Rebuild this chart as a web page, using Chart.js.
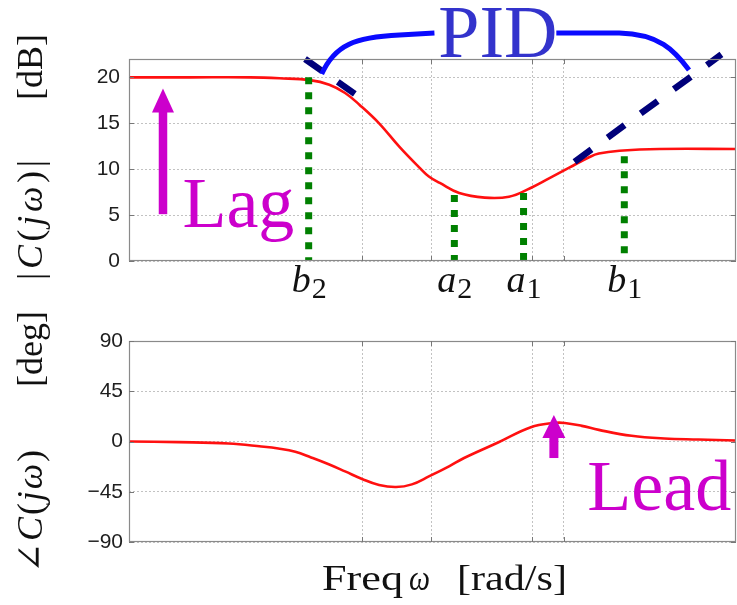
<!DOCTYPE html>
<html><head><meta charset="utf-8">
<script src="https://cdn.jsdelivr.net/npm/chart.js@4.4.1/dist/chart.umd.min.js"></script>
<style>
html,body{margin:0;padding:0;background:#fff;}
#wrap{position:relative;width:737px;height:605px;overflow:hidden;background:#fff;}
.box{position:absolute;left:0;width:737px;}
#boxMag{top:0;height:310px;}
#boxPh{top:310px;height:295px;}
</style></head><body>
<div id="wrap">
  <div class="box" id="boxMag"><canvas id="mag"></canvas></div>
  <div class="box" id="boxPh"><canvas id="ph"></canvas></div>
</div>
<script>
// ---- data (x = log10 of frequency) ----
const magFreq = [-3.00,-2.50,-2.00,-1.76,-1.51,-1.35,-1.22,-1.10,-0.94,-0.77,-0.61,-0.53,-0.44,-0.28,-0.07,0.13,0.30,0.46,0.63,0.79,0.87,1.04,1.37,2.00];
const magDb   = [20.0,20.0,20.0,19.9,19.7,19.2,18.3,17.0,15.0,12.4,10.2,9.2,8.5,7.4,6.9,7.0,7.9,9.0,10.2,11.3,11.7,12.0,12.2,12.2];
const phaseFreq = [-3.00,-2.59,-2.18,-1.91,-1.77,-1.63,-1.50,-1.36,-1.22,-1.08,-0.94,-0.80,-0.67,-0.53,-0.36,-0.24,0.04,0.31,0.50,0.59,0.73,0.87,1.14,1.41,1.69,2.00];
const phaseDeg  = [0,-0.6,-1.8,-4.5,-6.3,-9.2,-14.3,-20.2,-26.8,-33.6,-39.0,-40.8,-38.4,-31.3,-22.0,-14.8,-0.9,12.8,16.6,16.6,14.0,10.4,5.1,2.7,1.8,0.9];
const gridFreq = [-1.08,-0.51,0.32,0.58];
const magTicks = [0,5,10,15,20];
const phaseTicks = [-90,-45,0,45,90];
const cornerNames = ['b','a','a','b'];
const cornerSubs  = ['2','2','1','1'];
const cornerFreq  = [-1.52,-0.32,0.25,1.08];
const cornerTopDb = [20.0,7.2,7.4,11.4];
const lowAsymFreq = [-1.55,-1.14];
const lowAsymDb   = [22.0,18.2];
const highAsymFreq = [0.67,1.88];
const highAsymDb   = [10.8,22.5];

const SERIF = '"Liberation Serif","DejaVu Serif",serif';
const SANS = '"Liberation Sans",Arial,sans-serif';
const GRID = '#c2c2c2';
const MAGENTA = '#cc00cc';

function pts(xs, ys){ return xs.map((x,i)=>({x:x,y:ys[i]})); }

function gapRuns(ctx, list, left, baseline, width){
  const ws = list.map(r=>{ctx.font=r[1]; return ctx.measureText(r[0]).width;});
  const total = ws.reduce((a,b)=>a+b,0);
  const gap = list.length>1 ? (width-total)/(list.length-1) : 0;
  let x = left;
  list.forEach((r,i)=>{ctx.font=r[1]; ctx.fillText(r[0],x,baseline); x+=ws[i]+gap;});
}
function fitText(ctx, text, font, left, baseline, width){
  ctx.font = font;
  const w = ctx.measureText(text).width;
  ctx.save(); ctx.translate(left, baseline); ctx.scale(width/w,1); ctx.fillText(text,0,0); ctx.restore();
}
function upArrow(ctx, x, yTail, yTip, shaft, headW, headL, color){
  ctx.fillStyle = color;
  ctx.fillRect(x-shaft/2, yTip+headL-1, shaft, yTail-(yTip+headL-1));
  ctx.beginPath();
  ctx.moveTo(x, yTip); ctx.lineTo(x+headW/2, yTip+headL); ctx.lineTo(x-headW/2, yTip+headL); ctx.closePath();
  ctx.fill();
}

const framePlugin = {
  id:'frame',
  afterDatasetsDraw(chart){
    const {ctx, chartArea:a, scales} = chart;
    ctx.save();
    ctx.strokeStyle = '#8a8a8a'; ctx.lineWidth = 1.2;
    ctx.strokeRect(a.left+0.5, a.top+0.5, a.right-a.left-1, a.bottom-a.top-1);
    ctx.strokeStyle = '#777'; ctx.lineWidth = 1;
    ctx.beginPath();
    gridFreq.forEach(v=>{
      const x = Math.round(scales.x.getPixelForValue(v))+0.5;
      ctx.moveTo(x,a.top); ctx.lineTo(x,a.top+5);
      ctx.moveTo(x,a.bottom); ctx.lineTo(x,a.bottom-5);
    });
    scales.y.ticks.forEach(t=>{
      const y = Math.round(scales.y.getPixelForValue(t.value))+0.5;
      ctx.moveTo(a.left,y); ctx.lineTo(a.left+5,y);
      ctx.moveTo(a.right,y); ctx.lineTo(a.right-5,y);
    });
    ctx.stroke();
    ctx.restore();
  }
};

function options(o){
  return {
    responsive:true, maintainAspectRatio:false, animation:false,
    layout:{padding:{top:o.padTop,right:1,left:0,bottom:0}},
    plugins:{legend:{display:false},tooltip:{enabled:false}},
    elements:{point:{radius:0,hoverRadius:0},line:{borderCapStyle:'butt'}},
    scales:{
      x:{type:'linear',min:-3,max:2,
        afterBuildTicks:s=>{s.ticks=gridFreq.map(v=>({value:v}));},
        afterFit:s=>{s.height=o.xAxisHeight;},
        ticks:{display:false},
        grid:{color:GRID,lineWidth:1,drawTicks:false},
        border:{display:false,dash:[2,2]}},
      y:{type:'linear',min:o.yMin,max:o.yMax,
        afterBuildTicks:s=>{s.ticks=o.yTicks.map(v=>({value:v}));},
        afterFit:s=>{s.width=129;},
        ticks:{padding:o.labelPad,color:'#1e1e1e',autoSkip:false,
          font:{family:SANS,size:21},
          callback:v=> v<0 ? '\u2212'+Math.abs(v) : String(v)},
        grid:{color:GRID,lineWidth:1,drawTicks:false},
        border:{display:false,dash:[2,2]}}
    }
  };
}

// ---- top: magnitude ----
const magAnno = {
  id:'magAnno',
  afterDraw(chart){
    const {ctx, chartArea:a, scales:{x:X,y:Y}} = chart;
    const P = (fx,fy)=>[X.getPixelForValue(fx), Y.getPixelForValue(fy)];
    ctx.save();
    // brace
    ctx.strokeStyle = '#0a0aff'; ctx.lineWidth = 5; ctx.lineCap='butt';
    ctx.beginPath();
    ctx.moveTo(...P(-1.413,20.36));
    ctx.bezierCurveTo(...P(-1.306,23.52), ...P(-1.141,24.39), ...P(-0.771,24.61));
    ctx.lineTo(...P(-0.484,24.82));
    ctx.moveTo(...P(0.520,24.82));
    ctx.lineTo(...P(1.038,24.82));
    ctx.bezierCurveTo(...P(1.367,24.71), ...P(1.490,22.97), ...P(1.613,20.80));
    ctx.stroke();
    // PID
    ctx.fillStyle = '#3333cc';
    ctx.font = '74px '+SERIF; ctx.textAlign='center'; ctx.textBaseline='alphabetic';
    ctx.fillText('PID', X.getPixelForValue(0.039), Y.getPixelForValue(22.2));
    // Lag arrow + text
    const ax = X.getPixelForValue(-2.72);
    upArrow(ctx, ax, Y.getPixelForValue(5.1), Y.getPixelForValue(18.8), 8.5, 22, 24, MAGENTA);
    ctx.fillStyle = MAGENTA; ctx.textAlign='left';
    ctx.font = '72px '+SERIF;
    ctx.fillText('Lag', X.getPixelForValue(-2.56), Y.getPixelForValue(3.7));
    // corner labels
    ctx.fillStyle = '#111';
    cornerFreq.forEach((f,i)=>{
      const cx = X.getPixelForValue(f);
      ctx.font = 'italic 38px '+SERIF;
      const w1 = ctx.measureText(cornerNames[i]).width;
      ctx.font = '30px '+SERIF;
      const w2 = ctx.measureText(cornerSubs[i]).width;
      const left = cx - (w1+w2)/2;
      ctx.font = 'italic 38px '+SERIF; ctx.textAlign='left';
      ctx.fillText(cornerNames[i], left, a.bottom+31);
      ctx.font = '30px '+SERIF;
      ctx.fillText(cornerSubs[i], left+w1+1, a.bottom+37);
    });
    // y title (rotated)
    ctx.translate(33, 0); ctx.rotate(-Math.PI/2);
    ctx.textBaseline='middle'; ctx.fillStyle='#111';
    gapRuns(ctx, [['|','36px '+SERIF],['C','italic 36px '+SERIF],['(','36px '+SERIF],['j','italic 36px '+SERIF],['\u03c9','italic 36px '+SERIF],[')','36px '+SERIF],['|','36px '+SERIF]], -280, 0, 120);
    gapRuns(ctx, [['[dB]','36px '+SERIF]], -100, 0, 67);
    ctx.restore();
  }
};

new Chart(document.getElementById('mag'), {
  type:'line',
  data:{datasets:[
    {data:pts(lowAsymFreq,lowAsymDb), borderColor:'#00007a', borderWidth:6.5, borderDash:[21,19], clip:false, order:1},
    {data:pts(highAsymFreq,highAsymDb), borderColor:'#00007a', borderWidth:6.5, borderDash:[21,20], clip:false, order:1},
    ...cornerFreq.map((f,i)=>({data:[{x:f,y:cornerTopDb[i]},{x:f,y:0}], borderColor:'#008000', borderWidth:7, borderDash:[7,8], order:2})),
    {data:pts(magFreq,magDb), borderColor:'#ff1010', borderWidth:2.6, tension:0.4, order:3}
  ]},
  options:options({padTop:59,xAxisHeight:49,yMin:0,yMax:22,yTicks:magTicks,labelPad:9}),
  plugins:[framePlugin, magAnno]
});

// ---- bottom: phase ----
const phAnno = {
  id:'phAnno',
  afterDraw(chart){
    const {ctx, chartArea:a, scales:{x:X,y:Y}} = chart;
    ctx.save();
    const ax = X.getPixelForValue(0.50);
    upArrow(ctx, ax, Y.getPixelForValue(-14.8), Y.getPixelForValue(23.7), 9, 23, 23, MAGENTA);
    ctx.fillStyle = MAGENTA; ctx.font = '72px '+SERIF; ctx.textAlign='left'; ctx.textBaseline='alphabetic';
    ctx.fillText('Lead', X.getPixelForValue(0.775), Y.getPixelForValue(-61.5));
    // x title
    ctx.fillStyle = '#111';
    fitText(ctx, 'Freq', '36px '+SERIF, 322, 280, 81);
    fitText(ctx, '\u03c9', 'italic 36px '+SERIF, 409, 280, 21);
    fitText(ctx, '[rad/s]', '36px '+SERIF, 457, 280, 110);
    // y title (rotated)
    ctx.translate(33, 0); ctx.rotate(-Math.PI/2);
    ctx.textBaseline='middle';
    gapRuns(ctx, [['\u2220','36px "DejaVu Serif",'+SERIF],['C','italic 36px '+SERIF],['(','36px '+SERIF],['j','italic 36px '+SERIF],['\u03c9','italic 36px '+SERIF],[')','36px '+SERIF]], -263, 0, 123);
    gapRuns(ctx, [['[deg]','36px '+SERIF]], -77, 0, 74);
    ctx.restore();
  }
};

new Chart(document.getElementById('ph'), {
  type:'line',
  data:{datasets:[
    {data:pts(phaseFreq,phaseDeg), borderColor:'#ff1010', borderWidth:2.6, tension:0.4}
  ]},
  options:options({padTop:31,xAxisHeight:63,yMin:-90,yMax:90,yTicks:phaseTicks,labelPad:6}),
  plugins:[framePlugin, phAnno]
});
</script>
</body></html>
